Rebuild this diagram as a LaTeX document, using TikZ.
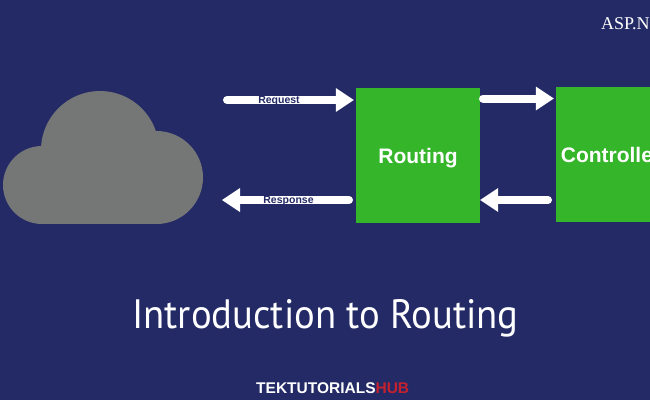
\documentclass[tikz,border=0pt]{standalone}
\usepackage{fontspec}
\setmainfont{Liberation Sans}
\newfontfamily\titlefont{PT Sans}
\newfontfamily\aspfont{Liberation Serif}
\usetikzlibrary{arrows.meta}
\definecolor{bgnavy}{HTML}{232A66}
\definecolor{boxgreen}{HTML}{35B52A}
\definecolor{cloudgray}{HTML}{757676}
\definecolor{hubred}{HTML}{C4212F}
\tikzset{
  flow/.style={draw=white,line width=8pt,line cap=round,-{Triangle[length=18pt 0,width=24pt 0,line width=0pt,fill=white]}},
  procbox/.style={fill=boxgreen,minimum height=135pt,inner sep=0pt,text=white,font=\fontsize{21}{24}\selectfont\bfseries},
  arrowlabel/.style={text=bgnavy,inner sep=0pt,font=\fontsize{10.5}{12}\selectfont\bfseries}
}
\begin{document}
\begin{tikzpicture}[x=1pt,y=-1pt]
\useasboundingbox (0,0) rectangle (650,400);
\clip (0,0) rectangle (650,400);
\fill[bgnavy] (0,0) rectangle (650,400);
% cloud
\fill[cloudgray] (42,185) circle[radius=39];
\fill[cloudgray] (100,150) circle[radius=59];
\fill[cloudgray] (156.5,177.5) circle[radius=46.5];
\fill[cloudgray] (42,224) rectangle (157,170);
% boxes
\node[procbox,minimum width=124pt] (routing) at (418,155) {\raisebox{-8pt}[0pt][0pt]{Routing}};
\node[procbox,minimum width=110pt] (controller) at (611,154.5) {\raisebox{-7.5pt}[0pt][0pt]{Controller}};
\fill[boxgreen] (controller.north east) rectangle (650,222);
% free ends
\coordinate (reqstart) at (227,100);
\coordinate (respend) at (222,200);
\coordinate (reqend) at (routing.west |- reqstart);
\coordinate (respstart) at (349,200);
\coordinate (r1) at (483,98.5);
\coordinate (c1) at (controller.west |- r1);
\coordinate (c2) at (548,200);
\coordinate (r2) at (routing.east |- c2);
% connectors
\draw[flow] (reqstart) -- ([xshift=-2pt]reqend);
\draw[flow] (respstart) -- (respend);
\draw[flow] (r1) -- ([xshift=-2pt]c1);
\draw[flow] (c2) -- (r2);
% labels
\node[arrowlabel] (reqlabel) at (279,101) {Request};
\node[arrowlabel] (resplabel) at (288.5,200.5) {Response};
\node[text=white,inner sep=0pt,anchor=base west,font=\aspfont\fontsize{18}{20}\selectfont] (asp) at (601,29) {ASP.NET};
\node[text=white,inner sep=0pt,font=\titlefont\fontsize{41}{48}\selectfont] (title) at (325.5,318) {\scalebox{.944}[1]{Introduction to Routing}};
\node[text=white,inner sep=0pt,anchor=base west,font=\fontsize{15.5}{18}\selectfont\bfseries] (brand) at (256,393) {TEKTUTORIALS\textcolor{hubred}{HUB}};
\end{tikzpicture}
\end{document}
